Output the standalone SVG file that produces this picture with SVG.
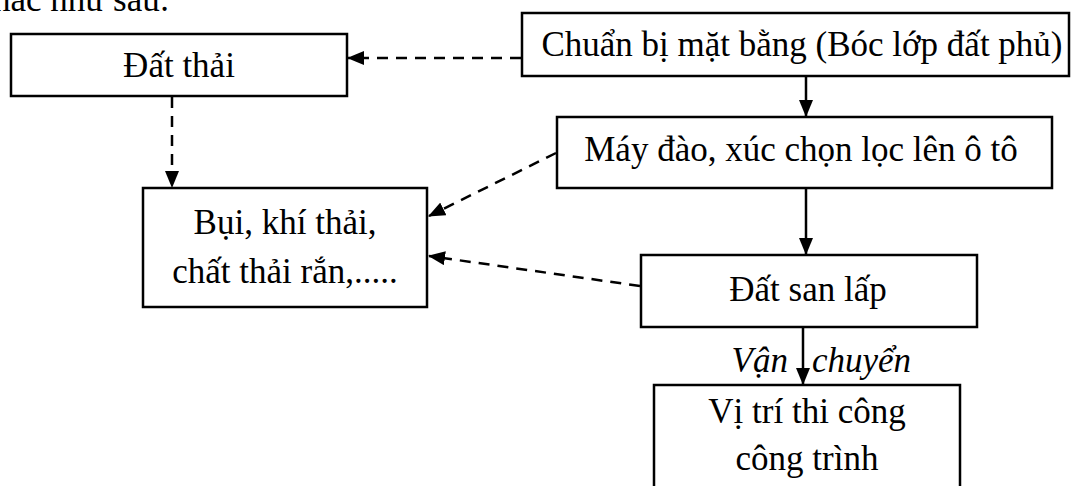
<svg xmlns="http://www.w3.org/2000/svg" width="1071" height="486" viewBox="0 0 1071 486">
<style>
.box{fill:#fff;stroke:#000;stroke-width:2.5}
.t{font-family:"Liberation Serif","Times New Roman",serif;font-size:35px;fill:#000;text-anchor:middle}
.i{font-family:"Liberation Serif","Times New Roman",serif;font-size:35px;font-style:italic;fill:#000}
.solid{stroke:#000;stroke-width:2.5;fill:none}
.dash{stroke:#000;stroke-width:2.5;fill:none;stroke-dasharray:11,8}
</style>
<defs>
<marker id="ah" markerUnits="userSpaceOnUse" markerWidth="17" markerHeight="14" refX="16" refY="7" orient="auto">
<path d="M0,0 L17,7 L0,14 Z" fill="#000"/>
</marker>
</defs>
<rect width="1071" height="486" fill="#fff"/>
<text x="-7" y="11" class="t" style="text-anchor:start">hác như sau:</text>
<g id="dat-thai"><rect class="box" x="11" y="34" width="336" height="62"/><text class="t" x="179" y="77">Đất thải</text></g>
<g id="chuan-bi"><rect class="box" x="522" y="13" width="547" height="63"/><text class="t" x="802" y="56">Chuẩn bị mặt bằng (Bóc lớp đất phủ)</text></g>
<g id="may-dao"><rect class="box" x="557" y="117" width="495" height="71"/><text class="t" x="801" y="161">Máy đào, xúc chọn lọc lên ô tô</text></g>
<g id="bui"><rect class="box" x="143" y="188" width="284" height="119"/><text class="t" x="285" y="234">Bụi, khí thải,</text><text class="t" x="285" y="283">chất thải rắn,.....</text></g>
<g id="dat-san-lap"><rect class="box" x="641" y="255" width="336" height="72"/><text class="t" x="808" y="301">Đất san lấp</text></g>
<g id="vi-tri"><rect class="box" x="654" y="385" width="306" height="110"/><text class="t" x="807" y="423">Vị trí thi công</text><text class="t" x="807" y="470">công trình</text></g>
<g id="connectors">
<line class="dash" x1="521" y1="58" x2="348" y2="58" marker-end="url(#ah)"/>
<line class="solid" x1="806" y1="77" x2="806" y2="116" marker-end="url(#ah)"/>
<line class="dash" x1="172" y1="97" x2="172" y2="187" marker-end="url(#ah)"/>
<line class="dash" x1="556" y1="153" x2="429" y2="216" marker-end="url(#ah)"/>
<line class="solid" x1="806" y1="189" x2="806" y2="254" marker-end="url(#ah)"/>
<line class="dash" x1="640" y1="286" x2="429" y2="256" marker-end="url(#ah)"/>
<line class="solid" x1="803" y1="328" x2="803" y2="384" marker-end="url(#ah)"/>
<text class="i" x="788" y="372" style="text-anchor:end">Vận</text>
<text class="i" x="812" y="372">chuyển</text>
</g>
</svg>
